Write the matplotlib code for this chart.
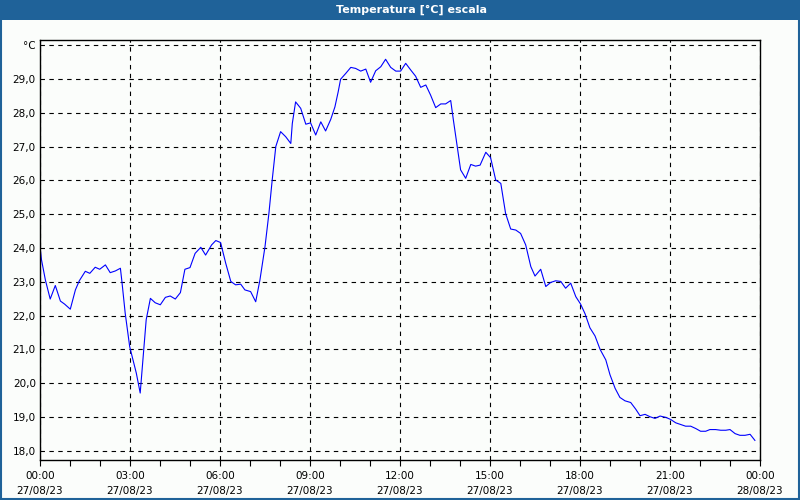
import pandas as pd
import matplotlib
matplotlib.use('Agg')
import matplotlib.pyplot as plt
import matplotlib.dates as mdates
from matplotlib.lines import Line2D
from matplotlib.patches import Rectangle

# readings: hours after 27/08/23 00:00 and temperature in degrees C
HOURS = [0.00, 0.05, 0.18, 0.34, 0.51, 0.68, 0.82, 1.01, 1.18, 1.31, 1.51, 1.66,
         1.84, 1.99, 2.18, 2.34, 2.51, 2.68, 2.73, 2.84, 2.99, 3.21, 3.34, 3.46,
         3.54, 3.68, 3.84, 4.01, 4.18, 4.34, 4.51, 4.68, 4.83, 5.00, 5.17, 5.36,
         5.52, 5.72, 5.86, 6.02, 6.19, 6.36, 6.52, 6.69, 6.83, 7.02, 7.19, 7.33,
         7.50, 7.63, 7.74, 7.86, 8.02, 8.19, 8.36, 8.41, 8.52, 8.69, 8.86, 9.02,
         9.19, 9.36, 9.52, 9.69, 9.83, 9.94, 10.02, 10.19, 10.36, 10.52, 10.69, 10.86,
         11.02, 11.19, 11.36, 11.52, 11.69, 11.86, 12.02, 12.19, 12.36, 12.52, 12.69, 12.86,
         13.02, 13.19, 13.36, 13.52, 13.69, 13.78, 13.86, 13.97, 14.02, 14.19, 14.36, 14.52,
         14.67, 14.86, 15.02, 15.19, 15.36, 15.52, 15.69, 15.86, 16.02, 16.19, 16.36, 16.50,
         16.69, 16.86, 17.02, 17.19, 17.36, 17.52, 17.69, 17.86, 18.02, 18.17, 18.33, 18.50,
         18.67, 18.86, 19.00, 19.17, 19.33, 19.50, 19.69, 19.86, 20.00, 20.17, 20.33, 20.50,
         20.67, 20.86, 21.02, 21.19, 21.36, 21.52, 21.69, 21.86, 22.02, 22.19, 22.33, 22.52,
         22.69, 22.86, 23.00, 23.17, 23.33, 23.50, 23.67, 23.83]
TEMPS = [24.04, 23.65, 23.05, 22.49, 22.89, 22.43, 22.34, 22.19, 22.76, 23.03, 23.31, 23.25,
         23.43, 23.37, 23.50, 23.27, 23.32, 23.40, 23.01, 22.07, 21.08, 20.30, 19.71, 20.99,
         21.88, 22.51, 22.38, 22.32, 22.54, 22.58, 22.49, 22.68, 23.37, 23.42, 23.84, 24.02,
         23.79, 24.09, 24.22, 24.16, 23.55, 23.01, 22.91, 22.93, 22.76, 22.71, 22.41, 23.05,
         24.04, 25.02, 26.01, 27.00, 27.44, 27.29, 27.09, 27.68, 28.32, 28.13, 27.66, 27.70,
         27.34, 27.73, 27.46, 27.80, 28.17, 28.62, 28.99, 29.16, 29.34, 29.31, 29.23, 29.29,
         28.90, 29.24, 29.36, 29.58, 29.34, 29.23, 29.23, 29.46, 29.26, 29.08, 28.75, 28.82,
         28.52, 28.15, 28.26, 28.26, 28.36, 27.78, 27.29, 26.60, 26.31, 26.06, 26.47, 26.42,
         26.45, 26.83, 26.67, 26.01, 25.91, 25.02, 24.56, 24.53, 24.43, 24.09, 23.45, 23.17,
         23.37, 22.86, 22.98, 23.03, 23.01, 22.81, 22.96, 22.56, 22.34, 22.05, 21.64, 21.40,
         21.00, 20.69, 20.25, 19.85, 19.58, 19.48, 19.43, 19.23, 19.04, 19.08, 19.01, 18.96,
         19.03, 18.99, 18.93, 18.83, 18.78, 18.73, 18.73, 18.66, 18.58, 18.58, 18.63, 18.63,
         18.61, 18.61, 18.63, 18.51, 18.46, 18.46, 18.49, 18.31]

Y_TICKS = list(range(18, 31))
Y_LABELS = ['18,0', '19,0', '20,0', '21,0', '22,0', '23,0', '24,0', '25,0',
            '26,0', '27,0', '28,0', '29,0', '°C']
TITLE = 'Temperatura [°C] escala'

START = pd.Timestamp('2023-08-27 00:00')
END = pd.Timestamp('2023-08-28 00:00')

BG = '#fbfdfb'
BAR = '#1f6299'

plt.rcParams['font.family'] = ['DejaVu Sans']

fig = plt.figure(figsize=(8, 5), dpi=100, facecolor=BG)
ax = fig.add_axes([0.05, 0.08, 0.90, 0.84], facecolor=BG)

times = START + pd.to_timedelta(HOURS, unit='h')
ax.plot(times, TEMPS, color='#0000ff', lw=0.8)

ax.set_xlim(START, END)
ax.set_ylim(17.73, 30.15)
ax.set_yticks(Y_TICKS)
ax.set_yticklabels(Y_LABELS)

ax.xaxis.set_major_locator(mdates.HourLocator(byhour=range(0, 24, 3)))
ax.xaxis.set_major_formatter(mdates.DateFormatter('%H:%M\n%d/%m/%y'))
ax.xaxis.set_minor_locator(mdates.HourLocator())

ax.tick_params(axis='y', length=0, pad=3, labelsize=7.5, colors='black')
ax.tick_params(axis='x', which='both', length=4, width=0.8, pad=4, labelsize=7.5)
for lab in ax.get_xticklabels():
    lab.set_linespacing(1.6)

ax.grid(True, which='major', color='black', linestyle=(0, (4, 4)), linewidth=0.8)
for s in ax.spines.values():
    s.set_linewidth(1.0)
    s.set_color('black')

# title bar and window border
fig.patches.append(Rectangle((0, 0.96), 1, 0.04, transform=fig.transFigure,
                             facecolor=BAR, edgecolor='none', zorder=0))
fig.text(0.515, 0.98, TITLE, color='white', fontsize=8, fontweight='bold',
         ha='center', va='center')
for xs, ys in [([0.001, 0.001], [0, 1]), ([0.999, 0.999], [0, 1]), ([0, 1], [0.002, 0.002])]:
    fig.lines.append(Line2D(xs, ys, transform=fig.transFigure, color=BAR, lw=1.5))

fig.savefig('out.png', dpi=100, facecolor=BG)
